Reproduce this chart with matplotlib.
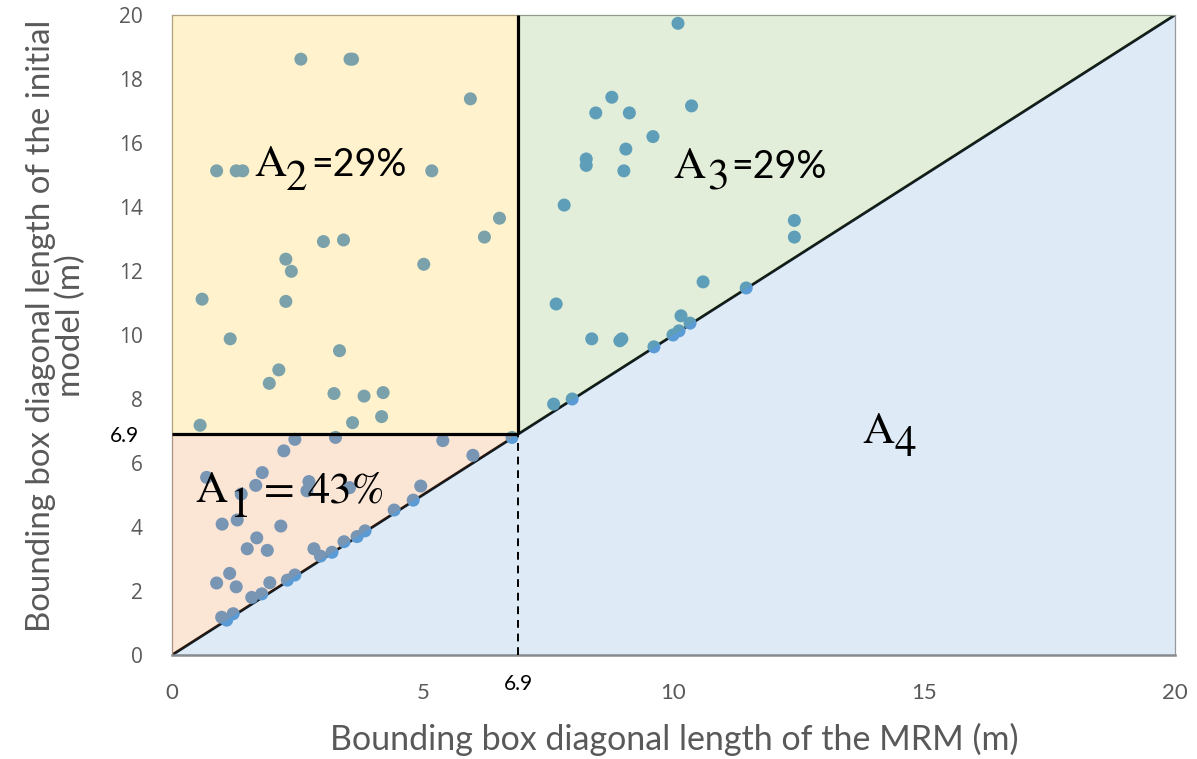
import matplotlib
matplotlib.use("Agg")
import matplotlib.pyplot as plt
from matplotlib.patches import Polygon

# Bounding box diagonal lengths (m): MRM vs. initial model
x_mrm = [
    # region A2
    2.57, 3.55, 3.60, 5.95, 0.89, 1.28, 1.41, 5.18, 6.53, 3.02, 3.42, 6.23, 2.27, 2.38,
    5.02, 0.60, 2.27, 1.16, 3.34, 2.13, 1.94, 3.23, 3.83, 4.21, 3.60, 4.18, 0.56,
    # region A1
    2.45, 3.26, 5.40, 6.78, 2.23, 6.00, 0.69, 1.80, 1.67, 1.38, 2.73, 2.69, 3.54, 4.96,
    4.81, 4.43, 1.00, 1.30, 2.17, 1.69, 1.50, 1.90, 2.83, 2.96, 3.19, 3.43, 3.69, 3.85,
    0.89, 1.15, 1.28, 1.95, 2.30, 2.45, 1.59, 1.79, 0.99, 1.09, 1.22,
    # region A3
    10.09, 8.77, 8.45, 9.12, 10.36, 9.59, 9.05, 8.26, 8.26, 9.01, 7.82, 12.41, 12.41,
    10.59, 11.45, 7.66, 10.15, 10.33, 8.37, 8.93, 8.97, 9.99, 10.11, 9.61, 7.61, 7.98,
]
y_initial = [
    18.62, 18.62, 18.62, 17.38, 15.13, 15.13, 15.13, 15.13, 13.65, 12.92, 12.97, 13.06, 12.37, 11.99,
    12.21, 11.12, 11.05, 9.88, 9.51, 8.91, 8.49, 8.17, 8.09, 8.20, 7.26, 7.45, 7.18,
    6.74, 6.80, 6.70, 6.80, 6.38, 6.24, 5.55, 5.70, 5.30, 5.03, 5.42, 5.13, 5.23, 5.28,
    4.84, 4.53, 4.09, 4.22, 4.03, 3.66, 3.32, 3.27, 3.32, 3.09, 3.21, 3.54, 3.70, 3.88,
    2.25, 2.55, 2.13, 2.26, 2.34, 2.50, 1.80, 1.91, 1.18, 1.09, 1.29,
    19.74, 17.43, 16.94, 16.94, 17.16, 16.20, 15.81, 15.50, 15.30, 15.13, 14.06, 13.58, 13.06,
    11.66, 11.47, 10.97, 10.60, 10.37, 9.88, 9.82, 9.88, 10.00, 10.13, 9.63, 7.84, 8.00,
]

threshold = 6.9
axis_max = 20
x_ticks = [0, 5, 10, 15, 20]
y_ticks = [0, 2, 4, 6, 8, 10, 12, 14, 16, 18, 20]
region_index = ["1", "2", "3", "4"]
region_share = ["43%", "29%", "29%", None]

gray = "#595959"
serif = "STIXGeneral"

fig = plt.figure(figsize=(11.97, 7.59), dpi=100)
ax = fig.add_axes([172 / 1197, 1 - 655 / 759, 1003 / 1197, 640 / 759])
ax.set_xlim(0, axis_max)
ax.set_ylim(0, axis_max)
ax.set_facecolor("white")

# 1:1 line and the data points sit beneath the translucent region shading
ax.plot([0, axis_max], [0, axis_max], color="black", lw=2.0, zorder=1.5, solid_capstyle="butt")
ax.scatter(x_mrm, y_initial, s=88, color="#5B9BD5", edgecolors="none", zorder=2)

T = threshold
regions = [
    ([(0, 0), (0, T), (T, T)], "#ED7D31"),
    ([(0, T), (0, axis_max), (T, axis_max), (T, T)], "#FFC000"),
    ([(T, T), (T, axis_max), (axis_max, axis_max)], "#70AD47"),
    ([(0, 0), (axis_max, 0), (axis_max, axis_max)], "#5B9BD5"),
]
for verts, col in regions:
    ax.add_patch(Polygon(verts, closed=True, facecolor=col, edgecolor="none", alpha=0.2, zorder=3))

# Region boundaries
ax.plot([0, T], [T, T], color="black", lw=2.3, zorder=4, solid_capstyle="butt")
ax.plot([T, T], [T, axis_max], color="black", lw=2.3, zorder=4, solid_capstyle="butt")
ax.plot([T, T], [0, T], color="black", lw=1.4, ls=(0, (4, 3)), zorder=4)


def region_label(x, y, idx, pieces, sub_dx, sub_dy):
    """Serif 'A' with a full-size lowered index, followed by extra text pieces.

    pieces: list of (text, dx_px, family, size)."""
    kw = dict(color="black", ha="left", va="baseline", zorder=5)
    ax.text(x, y, "A", family=serif, fontsize=32, **kw)
    ax.annotate(idx, (x, y), xytext=(sub_dx * 0.72, sub_dy * 0.72), textcoords="offset points",
                family=serif, fontsize=31, **kw)
    for txt, dx, fam, size in pieces:
        ax.annotate(txt, (x, y), xytext=(dx * 0.72, 0), textcoords="offset points",
                    family=fam, fontsize=size, **kw)


region_label(0.46, 4.78, region_index[0],
             [("=", 69, serif, 32), (region_share[0], 112, serif, 32)], 34, -15)
region_label(1.635, 14.97, region_index[1], [("=" + region_share[1], 57, "Lato", 27)], 32, -14)
region_label(9.99, 14.91, region_index[2], [("=" + region_share[2], 58, "Lato", 27)], 34, -12)
region_label(13.76, 6.63, region_index[3], [], 32, -13)

# Axes styling
for side in ["left", "top", "right"]:
    ax.spines[side].set_color("#9a9a9a")
    ax.spines[side].set_linewidth(0.9)
ax.spines["bottom"].set_color("#8a8a8a")
ax.spines["bottom"].set_linewidth(1.8)

ax.set_xticks(x_ticks)
ax.set_xticklabels([str(v) for v in x_ticks], family="Lato", fontsize=16, color=gray)
ax.set_yticks(y_ticks)
ax.set_yticklabels([str(v) for v in y_ticks], family="Open Sans", fontsize=15, color=gray)
ax.set_xticks([T], labels=[f"{T}"], minor=True)
ax.set_yticks([T], labels=[f"{T}"], minor=True)
ax.tick_params(axis="both", which="both", length=0)
ax.tick_params(axis="x", which="major", pad=20)
ax.tick_params(axis="y", which="major", pad=21)
ax.tick_params(axis="x", which="minor", pad=14, labelsize=15, labelcolor="black")
ax.tick_params(axis="y", which="minor", pad=24, labelsize=15, labelcolor="black")
for lbl in ax.get_xticklabels(minor=True):
    lbl.set_family("Lato")
for lbl in ax.get_yticklabels(minor=True):
    lbl.set_family("Lato")

fig.text(674 / 1197, 1 - 750 / 759, "Bounding box diagonal length of the MRM (m)",
         family="Lato", fontsize=24.5, color=gray, ha="center", va="baseline")
fig.text(56 / 1197, 1 - 326 / 759, "Bounding box diagonal length of the initial\nmodel (m)",
         family="Lato", fontsize=23.8, color=gray, ha="center", va="center",
         rotation=90, linespacing=1.0, multialignment="center")

fig.savefig("out.png", dpi=100)
